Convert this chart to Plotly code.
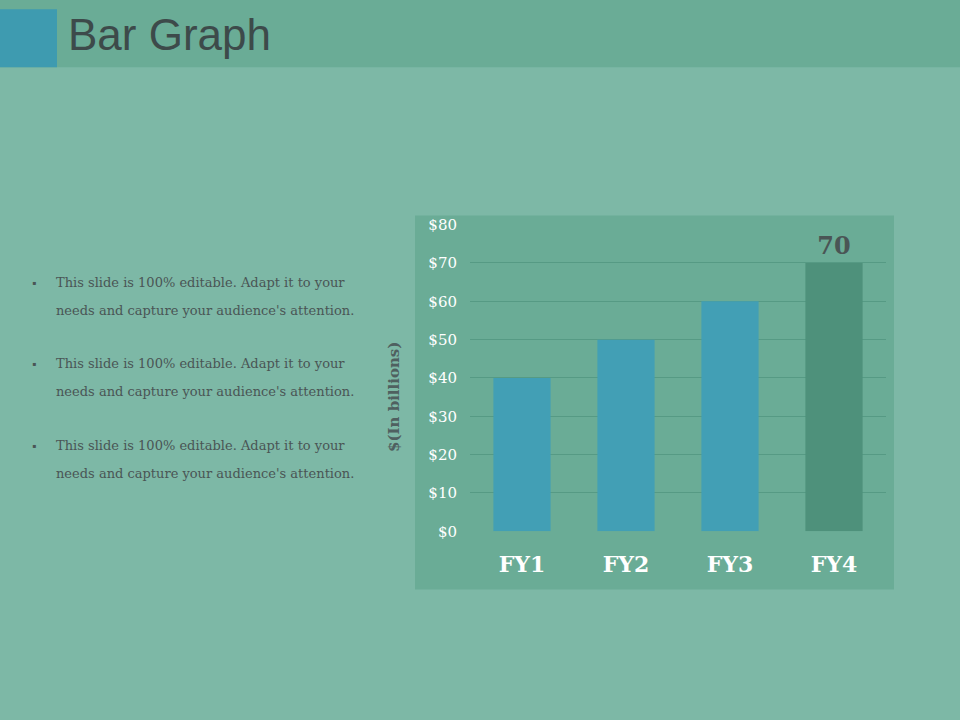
import plotly.graph_objects as go

categories = ["FY1", "FY2", "FY3", "FY4"]
values = [40, 50, 60, 70]
bar_colors = ["#429fb5", "#429fb5", "#429fb5", "#4e917b"]
tick_vals = [0, 10, 20, 30, 40, 50, 60, 70, 80]
tick_text = ["$0", "$10", "$20", "$30", "$40", "$50", "$60", "$70", "$80"]
bullet_line1 = "This slide is 100% editable. Adapt it to your"
bullet_line2 = "needs and capture your audience's attention."
label_text = ["", "", "", "<b>70</b>"]

fig = go.Figure(go.Bar(
    x=categories, y=values, marker=dict(color=bar_colors, line=dict(width=0)),
    width=0.55, text=label_text, textposition="outside", cliponaxis=False,
    textfont=dict(family="DejaVu Serif", size=24, color="#4a5555"),
))

W, H = 960, 720
def px(x): return x / W
def py(y):
    yy = (y - 9.8) / 0.973
    return 1 - yy / H

shapes = [
    dict(type="rect", xref="paper", yref="paper", x0=0, x1=1, y0=py(68), y1=py(0),
         fillcolor="#6aac96", line_width=0, layer="below"),
    dict(type="rect", xref="paper", yref="paper", x0=0, x1=px(57), y0=py(68), y1=py(10),
         fillcolor="#3e9bb0", line_width=0, layer="below"),
    dict(type="rect", xref="paper", yref="paper", x0=px(415), x1=px(894), y0=py(589), y1=py(216),
         fillcolor="#6aac96", line_width=0, layer="below"),
]
annotations = [
    dict(text="Bar Graph", x=px(66), y=py(35), xref="paper", yref="paper", xanchor="left",
         yanchor="middle", showarrow=False, font=dict(family="Liberation Sans", size=44, color="#3d4a4a")),
    dict(text="<b>$(In billions)</b>", x=px(394), y=py(397), xref="paper", yref="paper",
         textangle=-90, showarrow=False, font=dict(family="DejaVu Serif", size=15, color="#4f6060")),
]
for i in range(3):
    y0 = 283 + i * 81
    annotations.append(dict(text="▪", x=px(34), y=py(y0), xref="paper", yref="paper", xanchor="center",
                            yanchor="middle", showarrow=False, font=dict(size=12, color="#4a5555")))
    for j, t in enumerate([bullet_line1, bullet_line2]):
        annotations.append(dict(text=t, x=px(54), y=py(y0 + j * 28), xref="paper", yref="paper",
                                xanchor="left", yanchor="middle", showarrow=False,
                                font=dict(family="DejaVu Serif", size=13, color="#4a5555")))

fig.update_layout(
    width=W, height=H, margin=dict(l=0, r=0, t=0, b=0, pad=0),
    paper_bgcolor="#7db8a6", plot_bgcolor="rgba(0,0,0,0)",
    shapes=shapes, annotations=annotations, showlegend=False,
    xaxis=dict(domain=[px(470), px(886)], range=[-0.5, 3.5], showgrid=False, zeroline=False,
               tickfont=dict(family="DejaVu Serif", size=22, color="white"), ticklabelstandoff=18,
               tickprefix="<b>", ticksuffix="</b>"),
    yaxis=dict(domain=[py(531), py(225)], range=[0, 80], tickvals=tick_vals, ticktext=tick_text,
               showgrid=True, gridcolor="#569a84", gridwidth=1, zeroline=False,
               tickfont=dict(family="DejaVu Serif", size=15, color="white"), ticklabelstandoff=12),
)
fig.write_html("out.html", config={"displayModeBar": False, "responsive": False})
with open("out.html", encoding="utf-8") as f:
    html = f.read()
html = html.replace("<head>", "<head><style>html,body{margin:0;padding:0;}</style>", 1)
with open("out.html", "w", encoding="utf-8") as f:
    f.write(html)
